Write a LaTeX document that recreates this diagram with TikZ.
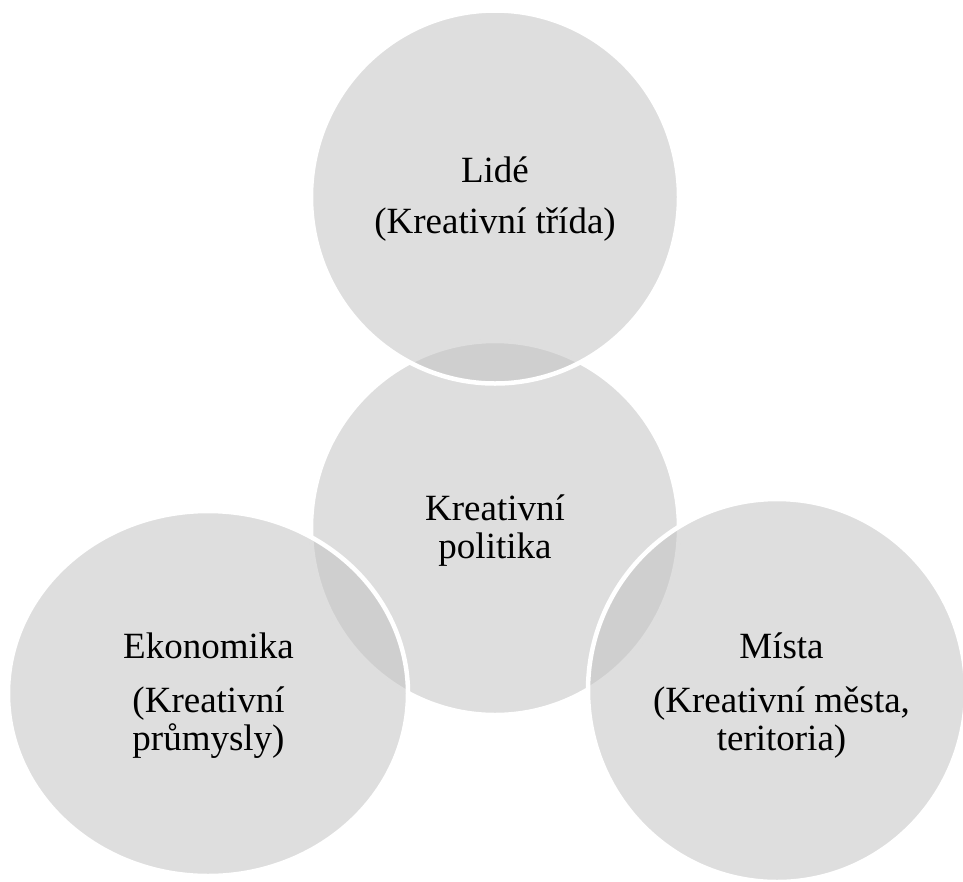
\documentclass[tikz,border=0pt]{standalone}
\usepackage{fontspec}
\setmainfont{Liberation Serif}
\usetikzlibrary{shapes.geometric}
\definecolor{discgray}{RGB}{195,195,195}
\tikzset{
  disc/.style={ellipse, inner sep=0pt, fill=discgray, fill opacity=0.55,
               draw=white, draw opacity=1, line width=4.5pt},
  label/.style={anchor=base, inner sep=0pt, text=black,
                font=\fontsize{37}{38}\selectfont}
}
\begin{document}
\begin{tikzpicture}[x=1pt, y=-1pt]
  \useasboundingbox (0,0) rectangle (963,881);

  % central policy disc first, the three domains overlap it
  \node[disc, minimum width=368pt, minimum height=374pt] (core) at (495,528) {};
  \node[disc, minimum width=368pt, minimum height=373pt] (people) at (495,197) {};
  \node[disc, minimum width=400pt, minimum height=365pt] (economy) at (208,693.5) {};
  \node[disc, minimum width=378pt, minimum height=383pt] (places) at (777,690.5) {};

  % labels
  \node[label] (coreA) at (495,520) {Kreativní};
  \node[label] (coreB) at (495,558) {politika};

  \node[label] (peopleA) at (495,182) {Lidé};
  \node[label] (peopleB) at (495,233) {(Kreativní třída)};

  \node[label] (economyA) at (208.5,658) {Ekonomika};
  \node[label] (economyB) at (208.5,712) {(Kreativní};
  \node[label] (economyC) at (208.5,750) {průmysly)};

  \node[label] (placesA) at (781.5,658) {Místa};
  \node[label] (placesB) at (781.5,712) {(Kreativní města,};
  \node[label] (placesC) at (781.5,750) {teritoria)};
\end{tikzpicture}
\end{document}
